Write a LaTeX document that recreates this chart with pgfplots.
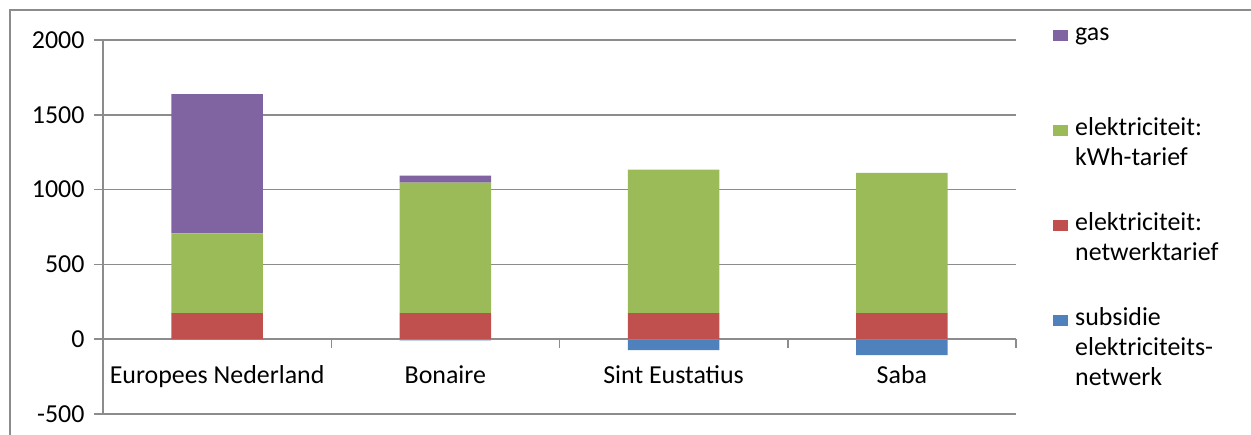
\documentclass[border=0pt]{standalone}
\usepackage{pgfplots}
\pgfplotsset{compat=1.18}
\usepackage{fontspec}
\setmainfont{Carlito}
\definecolor{cgas}{HTML}{8064A2}
\definecolor{ckwh}{HTML}{9BBB59}
\definecolor{cnet}{HTML}{C0504D}
\definecolor{csub}{HTML}{4F81BD}
\definecolor{cgrid}{HTML}{8C8C8C}
\newcommand{\lbl}{\fontsize{26}{30}\selectfont}
\newcommand{\ent}[1]{\begin{tabular}[t]{@{}l@{}}#1\end{tabular}}

\begin{document}
\begin{tikzpicture}
\useasboundingbox (0,0) rectangle (1251bp,435bp);
\draw[cgrid, line width=1.5bp] (10bp,-10bp) -- (10bp,425bp) -- (1260bp,425bp);
% subsidie (negative part), drawn in its own axis so it does not stack under the others
\begin{axis}[
  at={(103bp,21bp)}, anchor=south west,
  scale only axis, width=913bp, height=374bp,
  xmin=-0.5, xmax=3.5, ymin=-500, ymax=2000,
  hide axis, ybar, bar width=91.3bp,
]
\addplot[fill=csub, draw=none] coordinates {(0,0) (1,-8) (2,-73) (3,-107)};
\end{axis}
\begin{axis}[
  at={(103bp,21bp)}, anchor=south west,
  scale only axis, width=913bp, height=374bp,
  xmin=-0.5, xmax=3.5, ymin=-500, ymax=2000,
  ytick={-500,0,...,2000},
  ymajorgrids, grid style={cgrid, line width=1.5bp},
  axis y line*=left, axis x line*=middle,
  hide obscured y ticks=false,
  axis line style={cgrid, line width=1.5bp},
  xtick={0,1,2,3},
  xticklabels={Europees Nederland, Bonaire, Sint Eustatius, Saba},
  x tick style={draw=none},
  y tick style={cgrid, line width=1.5bp},
  tick align=outside, major tick length=9bp,
  ticklabel style={font=\lbl},
  xticklabel style={yshift=-14bp},
  yticklabel style={xshift=-6bp},
  /pgf/number format/assume math mode=true,
  /pgf/number format/1000 sep={},
  ybar stacked, bar width=91.3bp,
  clip=false,
  legend image code/.code={\fill[#1] (0bp,-0.5bp) rectangle (15bp,10.5bp);},
  reverse legend,
  legend cell align=left,
  legend style={at={(1.0405,1.054)}, anchor=north west, draw=none, fill=none,
    inner sep=0pt, nodes={inner sep=0pt, text depth=67.85bp}, cells={anchor=base west},
    row sep=6bp, column sep=7bp, font=\lbl},
]
\addlegendimage{fill=csub, draw=none}
\addlegendentry{\ent{subsidie\\elektriciteits-\\netwerk}}
\addplot[fill=cnet, draw=none] coordinates {(0,174) (1,174) (2,174) (3,174)};
\addlegendentry{\ent{elektriciteit:\\netwerktarief}}
\addplot[fill=ckwh, draw=none] coordinates {(0,534) (1,873) (2,960) (3,937)};
\addlegendentry{\ent{elektriciteit:\\kWh-tarief}}
\addplot[fill=cgas, draw=none] coordinates {(0,930) (1,46) (2,0) (3,0)};
\addlegendentry{\ent{gas}}
\pgfplotsinvokeforeach{0.5,1.5,2.5,3.5}{
  \draw[cgrid, line width=1.5bp] (axis cs:#1,0) -- ++(0pt,-9bp);
}
\end{axis}
\end{tikzpicture}
\end{document}
